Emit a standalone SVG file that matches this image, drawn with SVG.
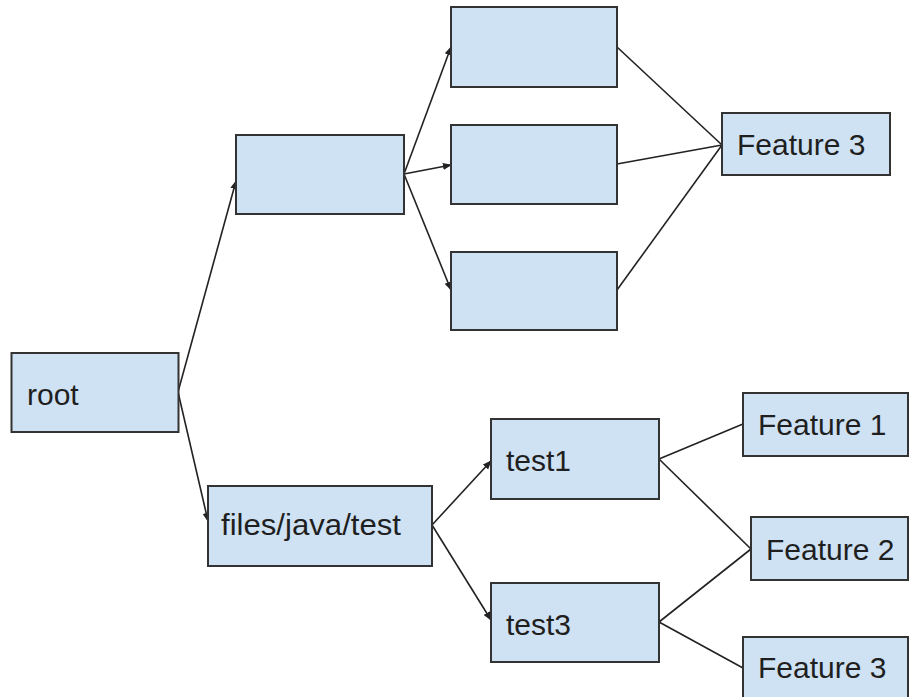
<svg xmlns="http://www.w3.org/2000/svg" width="909" height="697" viewBox="0 0 909 697">
  <defs>
    <style>
      .box { fill: #cfe2f3; stroke: #333333; stroke-width: 2; }
      .lbl { font-family: "Liberation Sans", Arial, sans-serif; font-size: 30px; fill: #1f1f1f; }
      .edge { fill: none; stroke: #222222; stroke-width: 1.6; }
    </style>
    <marker id="arrow" viewBox="0 0 10 10" refX="9" refY="5" markerWidth="9" markerHeight="9" markerUnits="userSpaceOnUse" orient="auto">
      <path d="M0,1 L10,5 L0,9 z" fill="#222222"/>
    </marker>
  </defs>

  <rect width="909" height="697" fill="#ffffff"/>

  <g id="connectors">
    <line class="edge" x1="178" y1="392" x2="236" y2="181" marker-end="url(#arrow)"/>
    <line class="edge" x1="178" y1="392" x2="208" y2="521" marker-end="url(#arrow)"/>
    <line class="edge" x1="404" y1="174" x2="451" y2="47" marker-end="url(#arrow)"/>
    <line class="edge" x1="404" y1="174" x2="451" y2="165" marker-end="url(#arrow)"/>
    <line class="edge" x1="404" y1="174" x2="451" y2="290" marker-end="url(#arrow)"/>
    <line class="edge" x1="617" y1="47" x2="722" y2="145"/>
    <line class="edge" x1="617" y1="164" x2="722" y2="145"/>
    <line class="edge" x1="617" y1="290" x2="722" y2="145"/>
    <line class="edge" x1="432" y1="525" x2="491" y2="461" marker-end="url(#arrow)"/>
    <line class="edge" x1="432" y1="525" x2="491" y2="620" marker-end="url(#arrow)"/>
    <line class="edge" x1="659" y1="459" x2="743" y2="424"/>
    <line class="edge" x1="659" y1="459" x2="751" y2="549"/>
    <line class="edge" x1="659" y1="622" x2="751" y2="549"/>
    <line class="edge" x1="659" y1="622" x2="743" y2="668"/>
  </g>

  <g id="root">
    <rect class="box" x="11.5" y="353" width="167" height="79"/>
    <text class="lbl" x="27" y="405">root</text>
  </g>

  <g id="branch-top">
    <rect class="box" x="236" y="135" width="168" height="79"/>
  </g>

  <g id="leaf-top-1">
    <rect class="box" x="451" y="7" width="166" height="80"/>
  </g>
  <g id="leaf-top-2">
    <rect class="box" x="451" y="125" width="166" height="79"/>
  </g>
  <g id="leaf-top-3">
    <rect class="box" x="451" y="252" width="166" height="78"/>
  </g>

  <g id="feature-3-top">
    <rect class="box" x="722" y="113" width="168" height="62"/>
    <text class="lbl" x="737" y="155">Feature 3</text>
  </g>

  <g id="files-java-test">
    <rect class="box" x="208" y="486" width="224" height="80"/>
    <text class="lbl" x="221" y="535" textLength="180" lengthAdjust="spacingAndGlyphs">files/java/test</text>
  </g>

  <g id="test1">
    <rect class="box" x="491" y="419" width="168" height="80"/>
    <text class="lbl" x="506" y="471">test1</text>
  </g>

  <g id="test3">
    <rect class="box" x="491" y="583" width="168" height="79"/>
    <text class="lbl" x="506" y="635">test3</text>
  </g>

  <g id="feature-1">
    <rect class="box" x="743" y="393" width="165" height="63"/>
    <text class="lbl" x="758" y="435">Feature 1</text>
  </g>

  <g id="feature-2">
    <rect class="box" x="751" y="517" width="157" height="63"/>
    <text class="lbl" x="766" y="560">Feature 2</text>
  </g>

  <g id="feature-3-bottom">
    <rect class="box" x="743" y="637" width="165" height="70"/>
    <text class="lbl" x="758" y="678">Feature 3</text>
  </g>
</svg>
